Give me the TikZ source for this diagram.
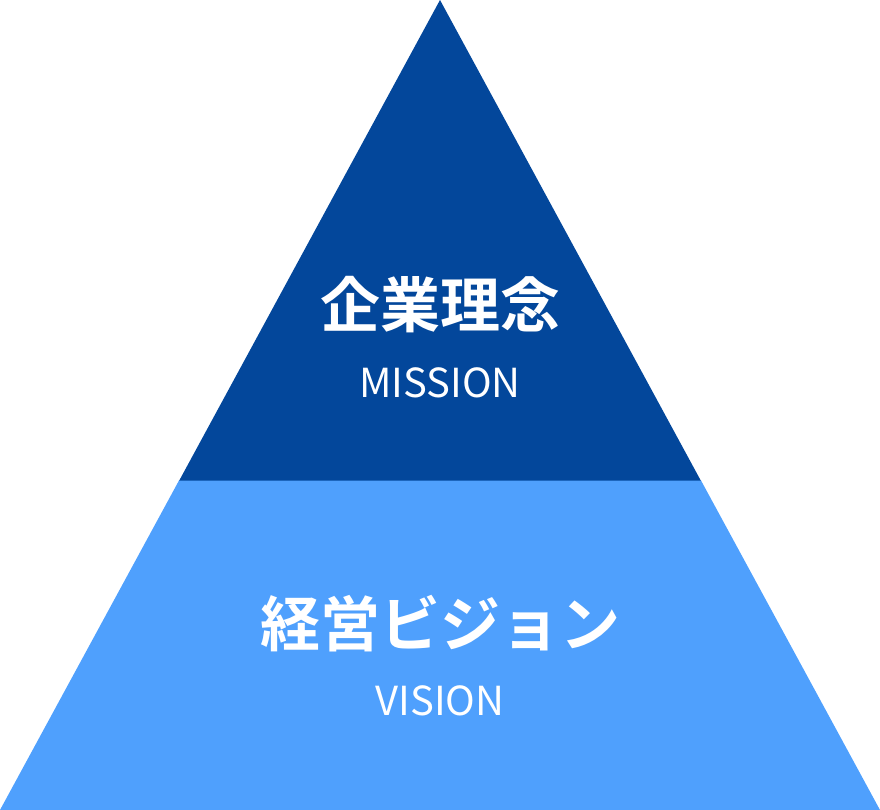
\documentclass[tikz,border=0pt]{standalone}
\usepackage{fontspec}
\newfontfamily\cjkb[BoldFont={Noto Sans CJK JP Bold}]{Noto Sans CJK JP}
\newfontfamily\cjkbold{Noto Sans CJK JP Bold}
\newfontfamily\cjkreg{Noto Sans CJK JP}
\definecolor{darkblue}{HTML}{03479B}
\definecolor{lightblue}{HTML}{4FA0FD}
\begin{document}
\begin{tikzpicture}[x=1pt,y=-1pt,
  title/.style={text=white,inner sep=0pt,anchor=base,font=\cjkbold\fontsize{60}{60}\selectfont},
  sub/.style={text=white,inner sep=0pt,anchor=base,font=\cjkreg\fontsize{40}{40}\selectfont}]
\useasboundingbox (0,0) rectangle (880,810);
\fill[lightblue] (0,810) -- (179.26,480) -- (700.74,480) -- (880,810) -- cycle;
\fill[darkblue] (440,0) -- (179.26,480.5) -- (700.74,480.5) -- cycle;
\node[title] (mt) at (440,327) {企業理念};
\node[sub] (ms) at (440,397) {MISSION};
\node[title] (vt) at (440,646) {経営ビジョン};
\node[sub] (vs) at (440,715) {VISION};
\end{tikzpicture}
\end{document}
